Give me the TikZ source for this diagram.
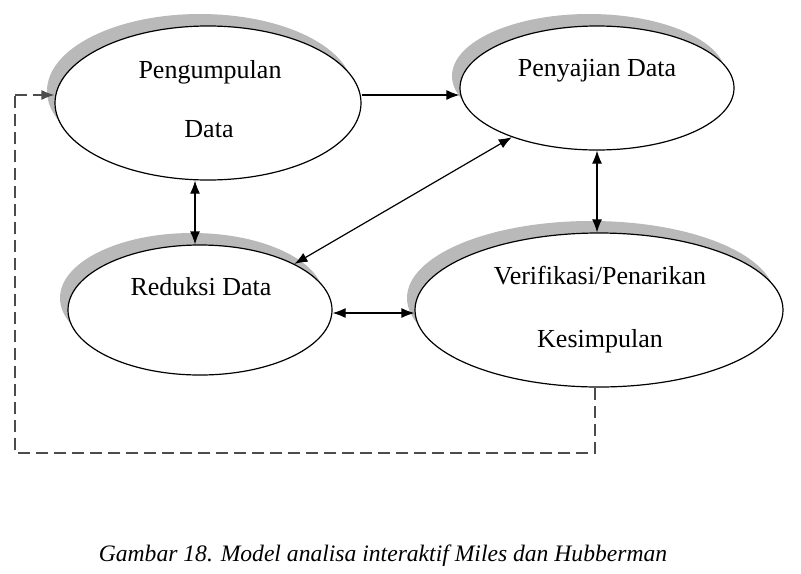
\documentclass[tikz,border=0pt]{standalone}
\usepackage{fontspec}
\setmainfont{Liberation Serif}
\usetikzlibrary{shapes.geometric,arrows.meta,shadows}
\begin{document}
\begin{tikzpicture}[x=0.5pt,y=-0.5pt,
  oval/.style={ellipse, draw=black, line width=0.6pt, fill=white, inner sep=0pt,
    general shadow={fill=gray!55, shadow xshift=-4pt, shadow yshift=6pt}},
  lbl/.style={anchor=base, inner sep=0pt, font=\fontsize{13}{15}\selectfont},
  tip/.style={Latex[length=6.5pt,width=5pt]},
  arr/.style={line width=0.6pt, -{Latex[length=6.5pt,width=5pt]}},
  darr/.style={line width=0.6pt, {Latex[length=6.5pt,width=5pt]}-{Latex[length=6.5pt,width=5pt]}},
  dashline/.style={line width=0.6pt, draw=black!70, dash pattern=on 6pt off 3pt}]
\useasboundingbox (0,0) rectangle (801,573);
% ellipses
\node[oval, minimum width=153pt, minimum height=77pt] (E1) at (208,103) {};
\node[oval, minimum width=137pt, minimum height=62pt] (E2) at (597,88) {};
\node[oval, minimum width=132pt, minimum height=65pt] (E3) at (200,310) {};
\node[oval, minimum width=184pt, minimum height=77pt] (E4) at (599,310) {};
% labels
\node[lbl] (t1a) at (210,78) {Pengumpulan};
\node[lbl] (t1b) at (209,137) {Data};
\node[lbl] (t2) at (597,76) {Penyajian Data};
\node[lbl] (t3) at (201,295) {Reduksi Data};
\node[lbl] (t4a) at (600,284) {Verifikasi/Penarikan};
\node[lbl] (t4b) at (600,347) {Kesimpulan};
% coordinates
\coordinate (h1) at (0,95);
\coordinate (v1) at (195,0);
\coordinate (h2) at (0,313);
\coordinate (c1) at (595,453);
\coordinate (c2) at (15,453);
\coordinate (c3) at (15,95);
% connectors
\draw[arr] (E1.east |- h1) -- (E2.west |- h1);
\draw[darr] (E1.south -| v1) -- (E3.north -| v1);
\draw[darr] (E2.210) -- (E3.26);
\draw[darr] (E2.south) -- (E2.south |- E4.north);
\draw[darr] (E3.east |- h2) -- (E4.west |- h2);
\draw[dashline] (E4.south -| c1) -- (c1) -- (c2) -- (c3);
\draw[dashline, -{Latex[length=6.5pt,width=5pt]}] (c3) -- (E1.west |- c3);
% caption
\node[anchor=base, inner sep=0pt, font=\fontsize{11.8}{14}\selectfont\itshape] (cap) at (383,561) {Gambar 18. Model analisa interaktif Miles dan Hubberman};
\end{tikzpicture}
\end{document}
